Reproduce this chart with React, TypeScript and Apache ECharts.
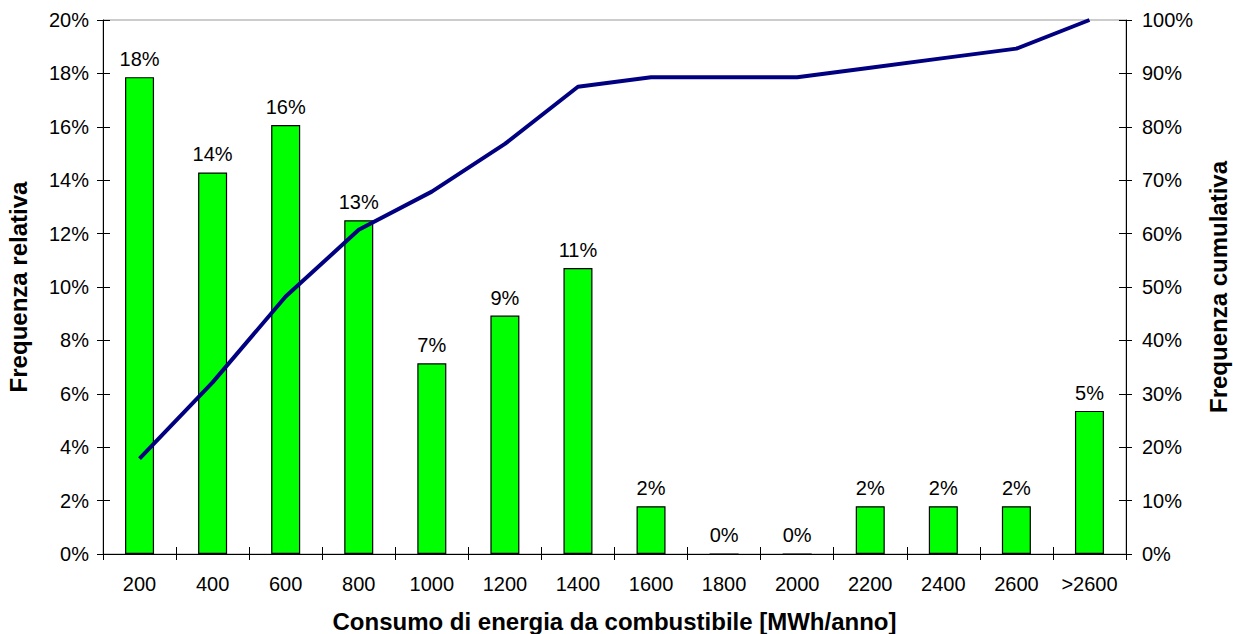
import React, { useEffect, useRef } from "react";
import * as echarts from "echarts";

const categories = ["200", "400", "600", "800", "1000", "1200", "1400", "1600", "1800", "2000", "2200", "2400", "2600", ">2600"];
const relativeFreq = [17.86, 14.29, 16.07, 12.5, 7.14, 8.93, 10.71, 1.79, 0, 0, 1.79, 1.79, 1.79, 5.36];
const cumulativeFreq = [17.86, 32.14, 48.21, 60.71, 67.86, 76.79, 87.5, 89.29, 89.29, 89.29, 91.07, 92.86, 94.64, 100];

const FONT = "'Liberation Sans', Arial, sans-serif";

export default function App() {
  const ref = useRef<HTMLDivElement>(null);
  useEffect(() => {
    document.body.style.margin = "0";
    const chart = echarts.init(ref.current!, null, { renderer: "svg" });
    const tickLabel = { fontFamily: FONT, fontSize: 20, color: "#000" };
    const titleStyle = { fontFamily: FONT, fontSize: 24, fontWeight: "bold", color: "#000" };
    const axisLine = { show: true, lineStyle: { color: "#000", width: 1 } };
    chart.setOption({
      animation: false,
      backgroundColor: "#fff",
      grid: {
        left: 103, right: 107, top: 20, bottom: 80,
        outerBoundsMode: "none",
        containLabel: false,
        show: true, borderColor: "#999", borderWidth: 1,
      },
      xAxis: [
        {
          type: "category",
          data: categories,
          position: "bottom",
          axisLine,
          axisTick: { show: true, interval: 0, length: 6, lineStyle: { color: "#000" } },
          axisLabel: { ...tickLabel, margin: 20, interval: 0 },
          name: "Consumo di energia da combustibile [MWh/anno]",
          nameLocation: "middle",
          nameGap: 55,
          nameTextStyle: titleStyle,
        },
        {
          type: "category",
          data: categories,
          position: "bottom",
          axisLine: { show: false },
          axisTick: { show: true, inside: true, interval: 0, length: 7, lineStyle: { color: "#000" } },
          axisLabel: { show: false },
        },
      ],
      yAxis: [
        {
          type: "value",
          position: "left",
          min: 0, max: 20, interval: 2,
          axisLine,
          axisTick: { show: true, length: 6, lineStyle: { color: "#000" } },
          axisLabel: { ...tickLabel, margin: 14, formatter: (v: number) => v + "%" },
          splitLine: { show: false },
          name: "Frequenza relativa",
          nameLocation: "middle",
          nameGap: 73,
          nameRotate: 90,
          nameTextStyle: titleStyle,
        },
        {
          type: "value",
          position: "right",
          min: 0, max: 100, interval: 10,
          axisLine,
          axisTick: { show: true, length: 6, lineStyle: { color: "#000" } },
          axisLabel: { ...tickLabel, margin: 16, formatter: (v: number) => v + "%" },
          splitLine: { show: false },
          name: "Frequenza cumulativa",
          nameLocation: "middle",
          nameGap: 80,
          nameRotate: 90,
          nameTextStyle: titleStyle,
        },
        {
          type: "value",
          position: "left",
          min: 0, max: 20, interval: 2,
          axisLine: { show: false },
          axisTick: { show: true, inside: true, length: 7, lineStyle: { color: "#000" } },
          axisLabel: { show: false },
          splitLine: { show: false },
        },
        {
          type: "value",
          position: "right",
          min: 0, max: 100, interval: 10,
          axisLine: { show: false },
          axisTick: { show: true, inside: true, length: 7, lineStyle: { color: "#000" } },
          axisLabel: { show: false },
          splitLine: { show: false },
        },
      ],
      series: [
        {
          type: "bar",
          data: relativeFreq,
          xAxisIndex: 0,
          yAxisIndex: 0,
          barWidth: 29,
          itemStyle: { color: "#00ff00", borderColor: "#000", borderWidth: 1.2 },
          label: {
            show: true,
            position: "top",
            distance: 8,
            fontFamily: FONT,
            fontSize: 20,
            color: "#000",
            formatter: (p: any) => Math.round(p.value) + "%",
          },
        },
        {
          type: "line",
          data: cumulativeFreq,
          xAxisIndex: 0,
          yAxisIndex: 1,
          symbol: "none",
          lineStyle: { color: "#000080", width: 4 },
          itemStyle: { color: "#000080" },
          z: 5,
        },
      ],
    });
    return () => chart.dispose();
  }, []);
  return <div ref={ref} style={{ width: 1233, height: 634 }} />;
}
